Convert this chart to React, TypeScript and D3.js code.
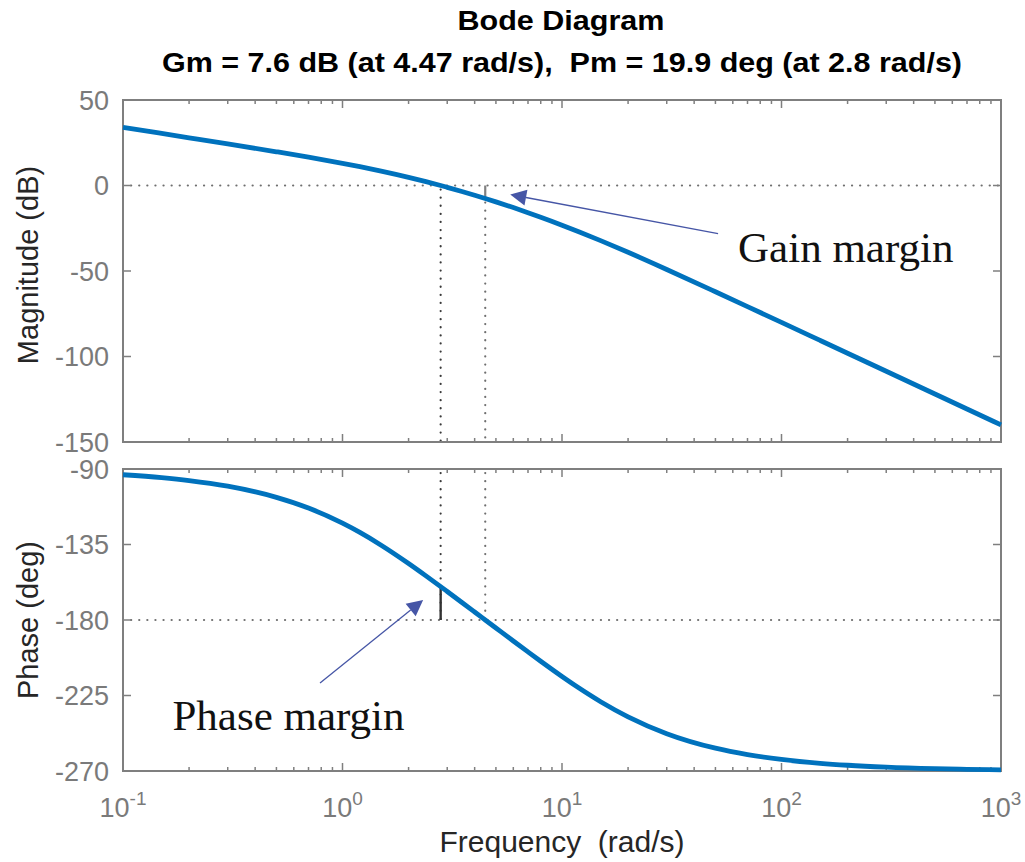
import React from 'react';
import * as d3 from 'd3';

const freq = [0.1, 0.15, 0.2, 0.3, 0.5, 0.7, 1, 1.2, 1.5, 2, 2.4, 2.8, 3, 3.5, 4, 4.47, 5, 6, 7, 8, 10, 12, 15, 20, 30, 50, 70, 100, 150, 200, 300, 500, 700, 1000];
const magnitudeDb = [33.98, 30.43, 27.91, 24.34, 19.73, 16.56, 12.97, 11.0, 8.42, 4.78, 2.26, 0.0, -1.06, -3.49, -5.7, -7.6, -9.57, -12.92, -15.88, -18.54, -23.18, -27.16, -32.24, -39.07, -49.1, -62.12, -70.8, -80.05, -90.59, -98.07, -108.63, -121.94, -130.71, -140.0];
const phaseDeg = [-93.43, -95.15, -96.86, -100.25, -106.9, -113.29, -122.28, -127.8, -135.4, -146.31, -153.69, -160.1, -163.01, -169.55, -175.24, -179.98, -184.76, -192.53, -199.04, -204.62, -213.69, -220.73, -228.72, -237.72, -247.75, -256.4, -260.23, -263.14, -265.43, -266.57, -267.71, -268.62, -269.02, -269.31];

const magTicks = [50, 0, -50, -100, -150];
const phaseTicks = [-90, -135, -180, -225, -270];
const freqDecades = [-1, 0, 1, 2, 3];

const titleLine1 = 'Bode Diagram';
const titleLine2 = 'Gm = 7.6 dB (at 4.47 rad/s),  Pm = 19.9 deg (at 2.8 rad/s)';
const magLabel = 'Magnitude (dB)';
const phaseLabel = 'Phase (deg)';
const freqLabel = 'Frequency  (rad/s)';

// margins
const gmFreq = 4.47;
const gmDb = 7.6;
const pmFreq = 2.8;
const pmDeg = 19.9;

// annotations (data coordinates)
const gainNote = { text: 'Gain margin', tipF: 5.81, tipY: -5.3, tailF: 51.4, tailY: -28.1, textF: 63.4, textY: -44.5 };
const phaseNote = { text: 'Phase margin', tipF: 2.33, tipY: -168.1, tailF: 0.79, tailY: -217.5, textF: 0.168, textY: -245.6 };

const W = 1025;
const H = 862;
const L = 123;
const R = 1001;
const T1 = 100;
const B1 = 442;
const T2 = 469;
const B2 = 771;

const AXIS = '#7f7f7f';
const TICKTXT = '#7a7a7a';
const LINE = '#0072BD';
const ARROW = '#4656a6';
const SANS = "'Liberation Sans', Arial, Helvetica, sans-serif";
const SERIF = "'Liberation Serif', 'Times New Roman', serif";

export default function App() {
  const x = d3.scaleLog().domain([0.1, 1000]).range([L, R]);
  const yM = d3.scaleLinear().domain([-150, 50]).range([B1, T1]);
  const yP = d3.scaleLinear().domain([-270, -90]).range([B2, T2]);

  const magLine = d3.line<number>().x((d, i) => x(freq[i])).y((d) => yM(d)).curve(d3.curveMonotoneX);
  const phaseLine = d3.line<number>().x((d, i) => x(freq[i])).y((d) => yP(d)).curve(d3.curveMonotoneX);

  const majors = freqDecades.map((e) => Math.pow(10, e));
  const minors: number[] = [];
  for (let e = -1; e < 3; e++) for (let k = 2; k <= 9; k++) minors.push(k * Math.pow(10, e));

  const panel = (top: number, bottom: number, yTicks: number[], yS: any, key: string) => (
    <g key={key}>
      {minors.map((f, i) => (
        <g key={'mn' + i}>
          <line x1={x(f)} x2={x(f)} y1={bottom} y2={bottom - 4} stroke={AXIS} strokeWidth={1.5} />
          <line x1={x(f)} x2={x(f)} y1={top} y2={top + 4} stroke={AXIS} strokeWidth={1.5} />
        </g>
      ))}
      {majors.map((f, i) => (
        <g key={'mj' + i}>
          <line x1={x(f)} x2={x(f)} y1={bottom} y2={bottom - 8} stroke={AXIS} strokeWidth={1.5} />
          <line x1={x(f)} x2={x(f)} y1={top} y2={top + 8} stroke={AXIS} strokeWidth={1.5} />
        </g>
      ))}
      {yTicks.map((v, i) => (
        <g key={'yt' + i}>
          <line x1={L} x2={L + 8} y1={yS(v)} y2={yS(v)} stroke={AXIS} strokeWidth={1.5} />
          <line x1={R} x2={R - 8} y1={yS(v)} y2={yS(v)} stroke={AXIS} strokeWidth={1.5} />
          <text x={109} y={yS(v)} dy="0.36em" textAnchor="end" fontFamily={SANS} fontSize={27} fill={TICKTXT}>
            {v}
          </text>
        </g>
      ))}
      <rect x={L} y={top} width={R - L} height={bottom - top} fill="none" stroke={AXIS} strokeWidth={2} />
    </g>
  );

  const dotted = { stroke: '#6f6f6f', strokeWidth: 2.2, strokeDasharray: '0.1 8', strokeLinecap: 'round' as const };
  const dottedDark = { ...dotted, stroke: '#3a3a3a' };

  const arrow = (n: any, yS: any, key: string) => {
    const x1 = x(n.tailF), y1 = yS(n.tailY), x2 = x(n.tipF), y2 = yS(n.tipY);
    const ang = Math.atan2(y2 - y1, x2 - x1);
    const len = 16, half = 8;
    const bx = x2 - len * Math.cos(ang), by = y2 - len * Math.sin(ang);
    const p1 = [bx + half * Math.sin(ang), by - half * Math.cos(ang)];
    const p2 = [bx - half * Math.sin(ang), by + half * Math.cos(ang)];
    return (
      <g key={key}>
        <line x1={x1} y1={y1} x2={bx} y2={by} stroke={ARROW} strokeWidth={1.3} />
        <polygon points={`${x2},${y2} ${p1[0]},${p1[1]} ${p2[0]},${p2[1]}`} fill={ARROW} />
        <text x={x(n.textF)} y={yS(n.textY)} fontFamily={SERIF} fontSize={43} fill="#111">
          {n.text}
        </text>
      </g>
    );
  };

  const pre = { whiteSpace: 'pre' as const };

  return (
    <svg width={W} height={H} style={{ position: 'absolute', left: 0, top: 0, background: '#fff' }}>
      <rect width={W} height={H} fill="#fff" />
      {/* title */}
      <text x={561} y={30} textAnchor="middle" fontFamily={SANS} fontWeight="bold" fontSize={27} textLength={207} lengthAdjust="spacingAndGlyphs" style={pre}>
        {titleLine1}
      </text>
      <text x={562} y={72} textAnchor="middle" fontFamily={SANS} fontWeight="bold" fontSize={27} textLength={800} lengthAdjust="spacingAndGlyphs" style={pre}>
        {titleLine2}
      </text>

      {/* reference lines top */}
      <line x1={L} x2={R} y1={yM(0)} y2={yM(0)} {...dotted} />
      <line x1={x(pmFreq)} x2={x(pmFreq)} y1={yM(0) + 4} y2={B1} {...dottedDark} />
      <line x1={x(gmFreq)} x2={x(gmFreq)} y1={yM(-gmDb) + 4} y2={B1} {...dotted} />
      <line x1={x(gmFreq)} x2={x(gmFreq)} y1={yM(0)} y2={yM(-gmDb)} stroke="#808080" strokeWidth={2.2} />

      {/* reference lines bottom */}
      <line x1={L} x2={R} y1={yP(-180)} y2={yP(-180)} {...dotted} />
      <line x1={x(pmFreq)} x2={x(pmFreq)} y1={T2 + 4} y2={yP(-180)} {...dottedDark} />
      <line x1={x(gmFreq)} x2={x(gmFreq)} y1={T2 + 4} y2={yP(-180)} {...dotted} />
      <line x1={x(pmFreq)} x2={x(pmFreq)} y1={yP(-180)} y2={yP(-180 + pmDeg)} stroke="#333" strokeWidth={2.4} />

      {panel(T1, B1, magTicks, yM, 'p1')}
      {panel(T2, B2, phaseTicks, yP, 'p2')}

      <path d={magLine(magnitudeDb) || ''} fill="none" stroke={LINE} strokeWidth={4.8} />
      <path d={phaseLine(phaseDeg) || ''} fill="none" stroke={LINE} strokeWidth={4.8} />

      {/* x tick labels */}
      {freqDecades.map((e, i) => (
        <text key={'xl' + i} x={x(Math.pow(10, e))} y={817} textAnchor="middle" fontFamily={SANS} fill={TICKTXT}>
          <tspan fontSize={27}>10</tspan>
          <tspan fontSize={19} dy={-12}>{e}</tspan>
        </text>
      ))}

      {/* axis labels */}
      <text transform={`translate(38,265) rotate(-90)`} textAnchor="middle" fontFamily={SANS} fontSize={29} fill="#262626" style={pre}>
        {magLabel}
      </text>
      <text transform={`translate(38,${(T2 + B2) / 2}) rotate(-90)`} textAnchor="middle" fontFamily={SANS} fontSize={29} fill="#262626" style={pre}>
        {phaseLabel}
      </text>
      <text x={(L + R) / 2} y={852} textAnchor="middle" fontFamily={SANS} fontSize={30} fill="#262626" style={pre}>
        {freqLabel}
      </text>

      {arrow(gainNote, yM, 'ga')}
      {arrow(phaseNote, yP, 'pa')}
    </svg>
  );
}
